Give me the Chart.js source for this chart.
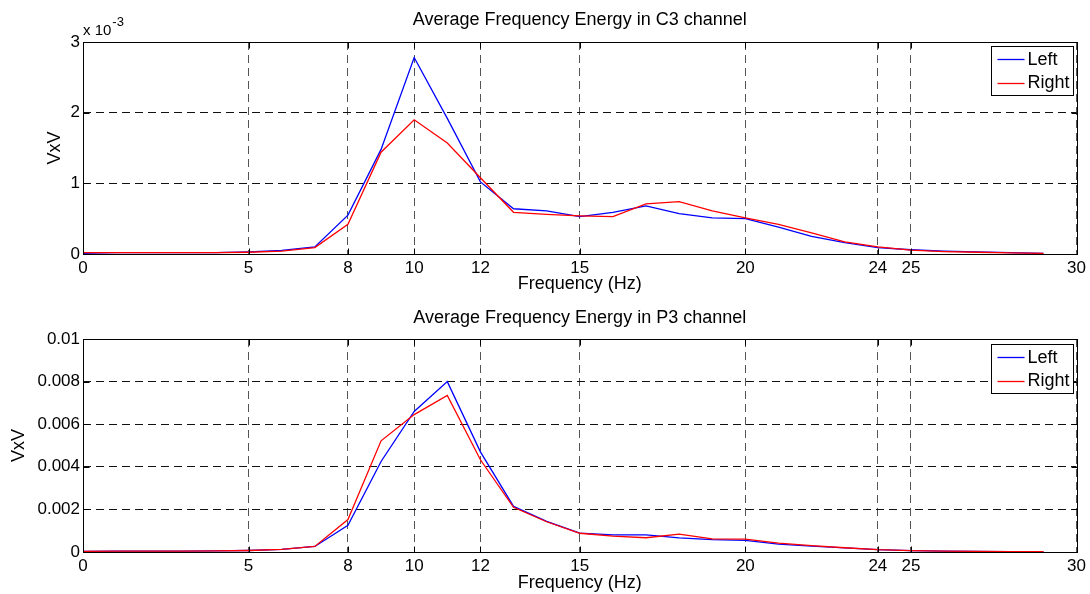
<!DOCTYPE html>
<html lang="en">
<head>
<meta charset="UTF-8">
<title>Average Frequency Energy</title>
<script src="https://cdn.jsdelivr.net/npm/chart.js"></script>
<style>
    body { margin: 0; background: #fff; }
    .plot { width: 1090px; height: 297px; }
</style>
</head>
<body>
<div class="plot"><canvas id="c3Chart" width="1090" height="297"></canvas></div>
<div class="plot"><canvas id="p3Chart" width="1090" height="297"></canvas></div>

<script>
// frequency bins (Hz)
var freqs = [0, 1, 2, 3, 4, 5, 6, 7, 8, 9, 10, 11, 12, 13, 14, 15, 16, 17, 18, 19, 20, 21, 22, 23, 24, 25, 26, 27, 28, 29];
var xTickValues = [0, 5, 8, 10, 12, 15, 20, 24, 25, 30];
var seriesNames = ['Left', 'Right'];

// C3 channel, values in units of 10^-3 (axis shows "x 10^-3")
var c3Left = [0.01, 0.02, 0.02, 0.02, 0.02, 0.03, 0.05, 0.10, 0.55, 1.48, 2.78, 1.92, 1.02, 0.64, 0.61, 0.53, 0.59, 0.68, 0.57, 0.51, 0.50, 0.38, 0.25, 0.16, 0.09, 0.06, 0.04, 0.03, 0.02, 0.01];
var c3Right = [0.02, 0.02, 0.02, 0.02, 0.02, 0.025, 0.04, 0.09, 0.42, 1.44, 1.90, 1.57, 1.08, 0.59, 0.56, 0.54, 0.53, 0.71, 0.74, 0.61, 0.51, 0.42, 0.30, 0.17, 0.10, 0.055, 0.035, 0.025, 0.015, 0.01];
var c3YTicks = [0, 1, 2, 3];

// P3 channel
var p3Left = [0.00003, 0.00004, 0.00004, 0.00004, 0.00005, 0.00007, 0.00012, 0.00026, 0.00125, 0.00425, 0.0066, 0.0080, 0.0047, 0.00214, 0.00144, 0.00089, 0.0008, 0.0008, 0.00066, 0.00058, 0.00055, 0.00037, 0.00028, 0.00019, 0.00011, 0.00006, 0.00004, 0.00003, 0.00002, 0.000015];
var p3Right = [0.00003, 0.00004, 0.00004, 0.00004, 0.00005, 0.00007, 0.00012, 0.00026, 0.00152, 0.00522, 0.00645, 0.00735, 0.00433, 0.0021, 0.00142, 0.00088, 0.00075, 0.00067, 0.00084, 0.00062, 0.0006, 0.00042, 0.0003, 0.0002, 0.00011, 0.00006, 0.00004, 0.00003, 0.00002, 0.000015];
var p3YTicks = [0, 0.002, 0.004, 0.006, 0.008, 0.01];

var fontFamily = '"Liberation Sans", Arial, Helvetica, sans-serif';

function toPoints(vals) {
    return vals.map(function (v, i) { return { x: freqs[i], y: v }; });
}

// matlab style: box, inward ticks, title over plot area, legend box
var matlabFrame = {
    id: 'matlabFrame',
    afterDraw: function (chart, args, opts) {
        var ctx = chart.ctx, a = chart.chartArea;
        var xs = chart.scales.x, ys = chart.scales.y;
        ctx.save();

        ctx.fillStyle = '#000';
        ctx.font = '18px ' + fontFamily;
        ctx.textAlign = 'center';
        ctx.textBaseline = 'middle';
        ctx.fillText(opts.title, (a.left + a.right) / 2, opts.titleY);

        var l = Math.round(a.left) + 0.5, r = Math.round(a.right) + 0.5;
        var t = Math.round(a.top) + 0.5, b = Math.round(a.bottom) + 0.5;
        ctx.strokeStyle = '#000';
        ctx.lineWidth = 1;
        ctx.setLineDash([]);
        ctx.strokeRect(l, t, r - l, b - t);

        ctx.beginPath();
        xs.ticks.forEach(function (tk) {
            var px = Math.round(xs.getPixelForValue(tk.value)) + 0.5;
            ctx.moveTo(px, b); ctx.lineTo(px, b - 6);
            ctx.moveTo(px, t); ctx.lineTo(px, t + 6);
        });
        ys.ticks.forEach(function (tk) {
            var py = Math.round(ys.getPixelForValue(tk.value)) + 0.5;
            ctx.moveTo(l, py); ctx.lineTo(l + 6, py);
            ctx.moveTo(r, py); ctx.lineTo(r - 6, py);
        });
        ctx.stroke();

        // legend
        var lw = 82, lh = 49;
        var lx = Math.round(a.right) - 4 - lw + 0.5, ly = Math.round(a.top) + opts.legendTop + 0.5;
        ctx.fillStyle = '#fff';
        ctx.fillRect(lx, ly, lw, lh);
        ctx.strokeRect(lx, ly, lw, lh);
        ctx.font = '18px ' + fontFamily;
        ctx.textAlign = 'left';
        ctx.textBaseline = 'middle';
        chart.data.datasets.forEach(function (ds, i) {
            var yy = ly + 12.5 + i * 23.5;
            ctx.strokeStyle = ds.borderColor;
            ctx.lineWidth = 1.3;
            ctx.beginPath();
            ctx.moveTo(lx + 6, Math.round(yy) + 0.5);
            ctx.lineTo(lx + 33, Math.round(yy) + 0.5);
            ctx.stroke();
            ctx.fillStyle = '#000';
            ctx.fillText(ds.label, lx + 36, yy + 1);
        });

        if (opts.exponent) {
            ctx.fillStyle = '#000';
            ctx.textBaseline = 'alphabetic';
            ctx.font = '15px ' + fontFamily;
            ctx.fillText('x 10', a.left, 35);
            var w = ctx.measureText('x 10').width;
            ctx.font = '13px ' + fontFamily;
            ctx.fillText(opts.exponent, a.left + w + 1, 26);
        }
        ctx.restore();
    }
};

function makeChart(id, left, right, yTicks, yMax, cfg) {
    return new Chart(document.getElementById(id), {
        type: 'line',
        data: {
            datasets: [{
                label: seriesNames[0],
                data: toPoints(left),
                borderColor: '#0000ff',
                borderWidth: 1.3,
                pointRadius: 0,
                tension: 0,
                order: 1
            }, {
                label: seriesNames[1],
                data: toPoints(right),
                borderColor: '#ff0000',
                borderWidth: 1.3,
                pointRadius: 0,
                tension: 0,
                order: 0
            }]
        },
        options: {
            responsive: false,
            animation: false,
            devicePixelRatio: 1,
            layout: { padding: { left: 0, right: 11, top: 42, bottom: 0 } },
            plugins: {
                legend: { display: false },
                tooltip: { enabled: false },
                matlabFrame: cfg
            },
            scales: {
                x: {
                    type: 'linear',
                    min: 0,
                    max: 30,
                    afterBuildTicks: function (scale) {
                        scale.ticks = xTickValues.map(function (v) { return { value: v }; });
                    },
                    afterFit: function (scale) { scale.height = cfg.xAxisHeight; },
                    grid: { color: '#555', drawTicks: false },
                    border: { display: false, dash: [8, 5] },
                    ticks: { color: '#000', padding: 4, maxRotation: 0, autoSkip: false, font: { family: fontFamily, size: 17 } },
                    title: {
                        display: true,
                        text: 'Frequency (Hz)',
                        color: '#000',
                        font: { family: fontFamily, size: 18 },
                        padding: { top: 0, bottom: cfg.xTitlePad }
                    }
                },
                y: {
                    min: 0,
                    max: yMax,
                    afterBuildTicks: function (scale) {
                        scale.ticks = yTicks.map(function (v) { return { value: v }; });
                    },
                    afterFit: function (scale) { scale.width = 83; },
                    grid: { color: '#111', drawTicks: false },
                    border: { display: false, dash: [8, 5] },
                    ticks: {
                        color: '#000',
                        padding: 3,
                        autoSkip: false,
                        font: { family: fontFamily, size: 17 },
                        callback: function (v) { return v === 0 ? '0' : String(+v.toFixed(4)); }
                    },
                    title: {
                        display: true,
                        text: 'VxV',
                        color: '#000',
                        font: { family: fontFamily, size: 18 },
                        padding: { top: cfg.yTitlePad, bottom: 0 }
                    }
                }
            }
        },
        plugins: [matlabFrame]
    });
}

makeChart('c3Chart', c3Left, c3Right, c3YTicks, 3, {
    title: 'Average Frequency Energy in C3 channel',
    titleY: 20,
    legendTop: 4,
    exponent: '-3',
    xAxisHeight: 43,
    xTitlePad: 2,
    yTitlePad: 44
});

makeChart('p3Chart', p3Left, p3Right, p3YTicks, 0.01, {
    title: 'Average Frequency Energy in P3 channel',
    titleY: 21,
    legendTop: 5,
    exponent: null,
    xAxisHeight: 42,
    xTitlePad: 0,
    yTitlePad: 8
});
</script>
</body>
</html>
